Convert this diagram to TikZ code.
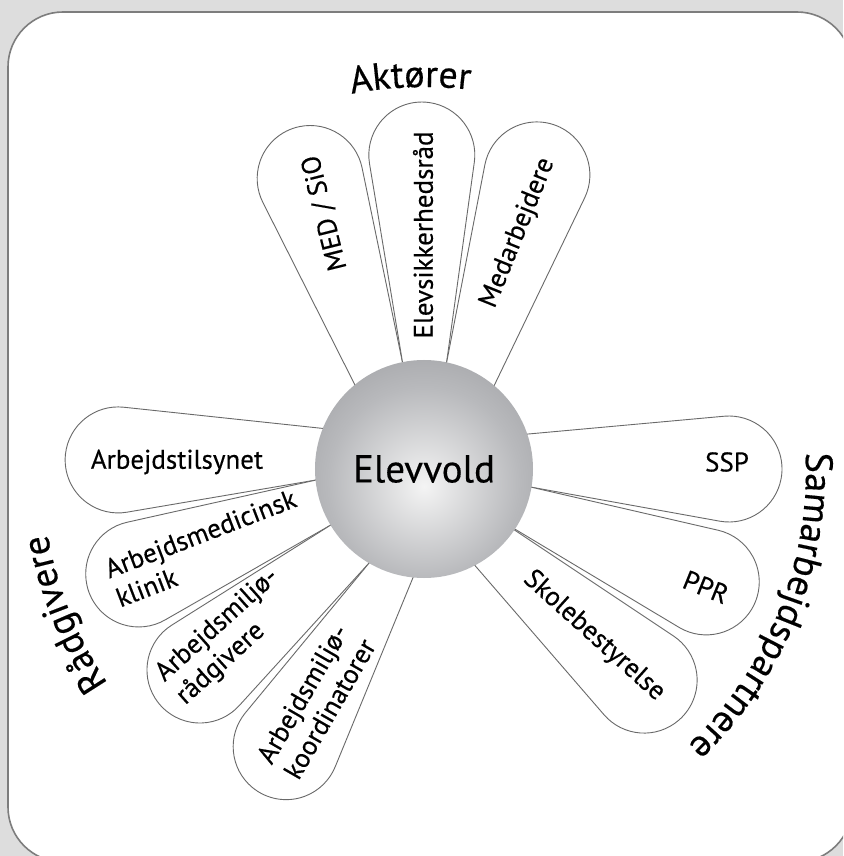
\documentclass[tikz,border=0pt]{standalone}
\usepackage{fontspec}
\setmainfont{PT Sans}[FakeBold=0.35]
\usetikzlibrary{decorations.text}
\definecolor{bggray}{RGB}{221,221,221}
\definecolor{framegray}{RGB}{125,125,125}
\definecolor{petalgray}{RGB}{105,105,105}
\definecolor{ballhi}{RGB}{244,244,244}
\definecolor{ballmid}{RGB}{184,185,188}
\definecolor{ballrim}{RGB}{130,131,135}
\pgfdeclareradialshading{elevball}{\pgfpoint{0bp}{-4bp}}{color(0bp)=(ballhi); color(22bp)=(ballmid); color(50bp)=(ballrim); color(100bp)=(ballrim)}
\newcommand\grpfont{\fontsize{19}{19}\selectfont}
\tikzset{
  petal/.style={draw=petalgray, line width=0.45pt, fill=white},
  petaltext/.style={font=\fontsize{13.5}{15.5}\selectfont, align=left, inner sep=0pt},
  ball/.style={circle, minimum size=109pt, inner sep=0pt, shading=elevball,
    font=\fontsize{19.5}{20}\selectfont},
  grouptext/.style={decorate, decoration={text along path, text align=center, text={#1}}}
}

\begin{document}
\begin{tikzpicture}[x=0.5pt, y=0.5pt]
	% Background and frame
	\useasboundingbox (-424,-387) rectangle (419,469);
	\clip (-424,-387) rectangle (419,469);
	\fill[bggray] (-424,-387) rectangle (419,469);
	\draw[framegray, line width=0.8pt, fill=white, rounded corners=27.5pt] (-416,-393) rectangle (428,457);
	% Petals: base angle ccw / base angle cw / tip angle / tip distance
	\foreach \ba/\bb/\tip/\dist in {129.5/101.4/111.4/312, 101.4/78/90.4/314, 78/49.8/69/315,
		18.8/-9.6/0/305, -9.6/-33.5/-21.8/304, -34/-62.3/-43.8/305,
		185.8/158/178.3/306, 211/185.8/200.2/304, 239.8/211/221.9/301, 264.4/239.8/243.6/310}{
		\pgfmathsetmacro\cx{\dist*cos(\tip)}
		\pgfmathsetmacro\cy{\dist*sin(\tip)}
		\pgfmathsetmacro\pax{108*cos(\ba)}
		\pgfmathsetmacro\pay{108*sin(\ba)}
		\pgfmathsetmacro\pbx{108*cos(\bb)}
		\pgfmathsetmacro\pby{108*sin(\bb)}
		\pgfmathsetmacro\ta{atan2((\pay)-(\cy),(\pax)-(\cx))-acos(53/veclen((\pax)-(\cx),(\pay)-(\cy)))}
		\pgfmathsetmacro\tb{atan2((\pby)-(\cy),(\pbx)-(\cx))+acos(53/veclen((\pbx)-(\cx),(\pby)-(\cy)))}
		\pgfmathsetmacro\tc{\tb+mod(\ta-\tb+720,360)}
		\pgfmathsetmacro\tbx{\cx+53*cos(\tb)}
		\pgfmathsetmacro\tby{\cy+53*sin(\tb)}
		\draw[petal] (\bb:108) -- (\tbx,\tby) arc[start angle=\tb, end angle=\tc, radius=53] -- (\ba:108) -- cycle;
	}
	% Centre
	\node[ball] (elevvold) at (0,0) {Elevvold};
	% Aktører
	\node[petaltext, rotate=104] (medsio) at (-99,256) {MED / SiO};
	\node[petaltext, rotate=90] (elevraad) at (-1,234) {Elevsikkerhedsråd};
	\node[petaltext, rotate=68] (medarb) at (94,236) {Medarbejdere};
	% Samarbejdspartnere
	\node[petaltext] (ssp) at (303,7) {SSP};
	\node[petaltext, rotate=-22] (ppr) at (282,-118) {PPR};
	\node[petaltext, rotate=-42] (skole) at (170,-167) {Skolebestyrelse};
	% Rådgivere
	\node[petaltext] (tilsyn) at (-247,7) {Arbejdstilsynet};
	\node[petaltext, rotate=21] (klinik) at (-218,-79) {Arbejdsmedicinsk\\klinik};
	\node[petaltext, rotate=42] (raadgiv) at (-196,-168) {Arbejdsmiljø-\\rådgivere};
	\node[petaltext, rotate=60] (koord) at (-108,-232) {Arbejdsmiljø-\\koordinatorer};
	% Group labels
	\path[grouptext=|\grpfont|Aktører] (142:382) arc[start angle=142, end angle=42, radius=382];
	\path[grouptext=|\grpfont|Samarbejdspartnere] (48:382) arc[start angle=48, end angle=-92, radius=382];
	\path[grouptext=|\grpfont|Rådgivere] (252:382) arc[start angle=252, end angle=152, radius=382];
\end{tikzpicture}
\end{document}
